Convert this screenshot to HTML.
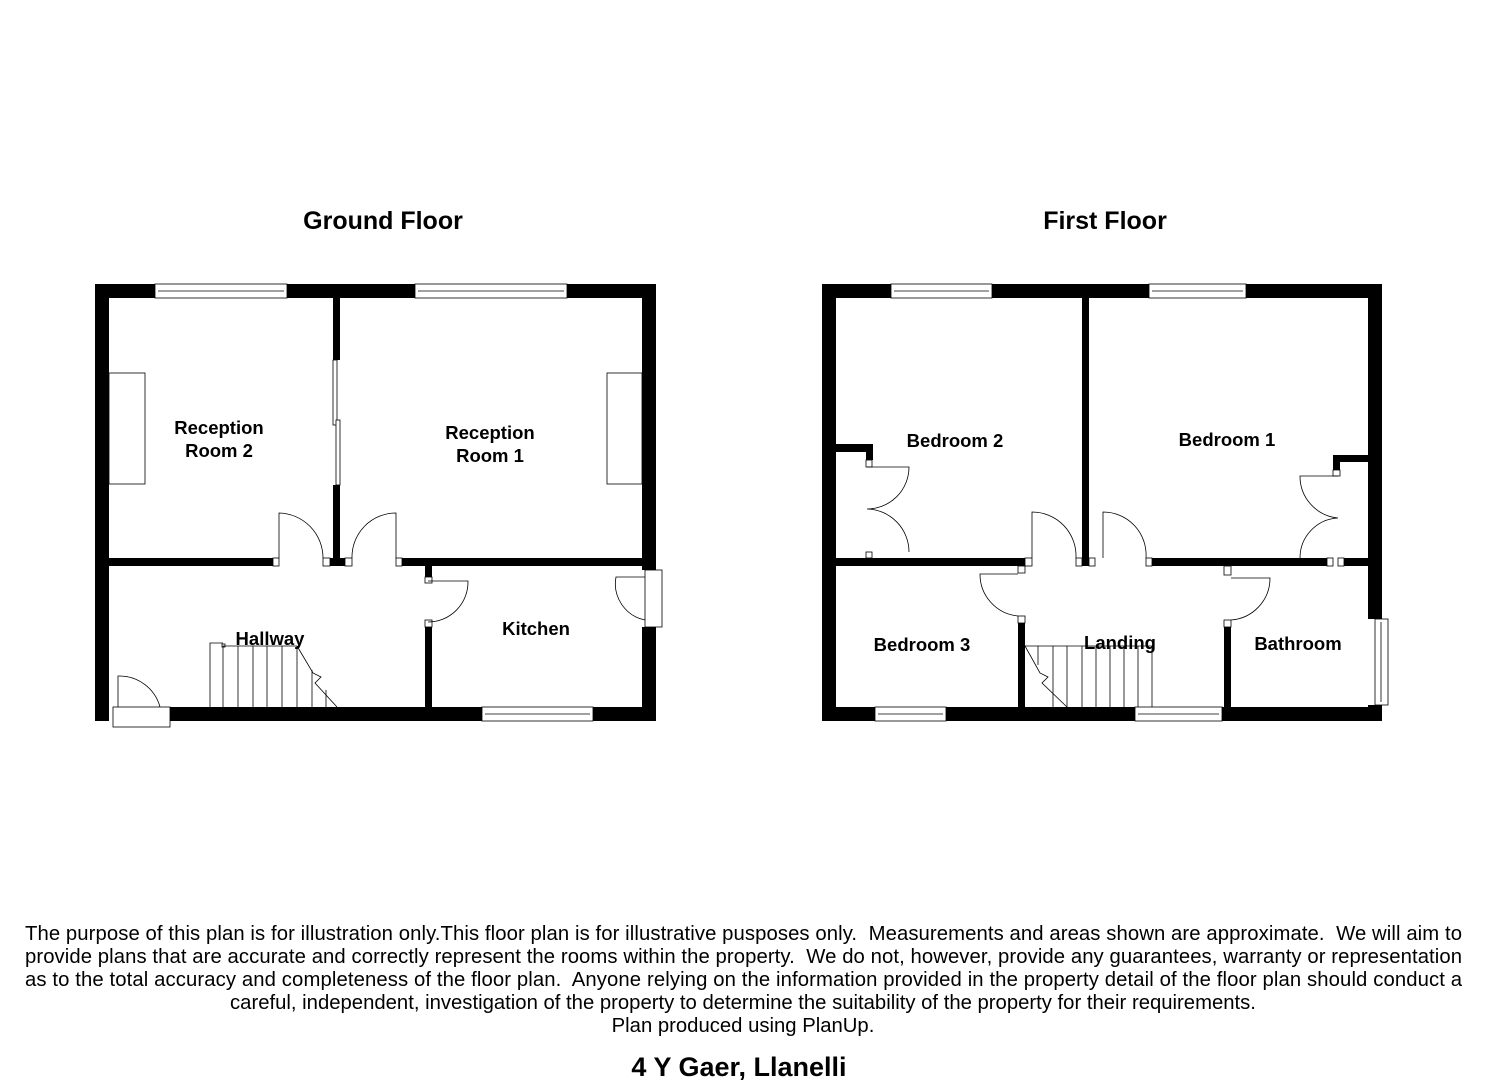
<!DOCTYPE html>
<html><head><meta charset="utf-8"><style>
body{margin:0;background:#fff;}
svg{display:block}
text{font-family:"Liberation Sans",Arial,sans-serif;}
.t{font-weight:bold;font-size:18.5px;text-anchor:middle}
.f{font-size:20.3px;white-space:pre}
</style></head><body>
<svg width="1485" height="1080" viewBox="0 0 1485 1080" xmlns="http://www.w3.org/2000/svg">
<rect width="1485" height="1080" fill="#fff"/>
<text x="383" y="229" class="t" style="font-size:25px">Ground Floor</text>
<text x="1105" y="229" class="t" style="font-size:25px">First Floor</text>

<g fill="#000">
<rect x="95" y="284" width="561" height="14"/>
<rect x="95" y="284" width="14" height="437"/>
<rect x="642" y="284" width="14" height="286"/>
<rect x="642" y="627" width="14" height="94"/>
<rect x="170" y="707" width="486" height="14"/>
<rect x="333" y="298" width="7" height="62"/>
<rect x="333" y="485" width="7" height="81"/>
<rect x="109" y="558" width="164" height="8"/>
<rect x="330" y="558" width="15" height="8"/>
<rect x="402" y="558" width="240" height="8"/>
<rect x="425" y="566" width="7" height="11"/>
<rect x="425" y="627" width="7" height="80"/>
<rect x="822" y="284" width="560" height="14"/>
<rect x="822" y="284" width="14" height="437"/>
<rect x="1368" y="284" width="14" height="335"/>
<rect x="1368" y="705" width="14" height="16"/>
<rect x="822" y="707" width="560" height="14"/>
<rect x="1082" y="298" width="7" height="268"/>
<rect x="836" y="558" width="189" height="8"/>
<rect x="1152" y="558" width="175" height="8"/>
<rect x="1344" y="558" width="24" height="8"/>
<rect x="836" y="444" width="37" height="8"/>
<rect x="866" y="444" width="7" height="16"/>
<rect x="1333" y="455" width="35" height="7"/>
<rect x="1333" y="455" width="7" height="15"/>
<rect x="1018" y="623" width="7" height="84"/>
<rect x="1224" y="627" width="7" height="80"/>
</g>

<g fill="#fff" stroke="#000" stroke-width="0.8">
<rect x="155" y="284" width="132" height="14"/><line x1="158" y1="291" x2="284" y2="291"/>
<rect x="415" y="284" width="152" height="14"/><line x1="418" y1="291" x2="564" y2="291"/>
<rect x="482" y="707" width="111" height="14"/><line x1="485" y1="714" x2="590" y2="714"/>
<rect x="113" y="707" width="57" height="20"/>
<rect x="645" y="570" width="17" height="57"/>
<rect x="333" y="360" width="4" height="65"/><rect x="336" y="420" width="4" height="65"/>
<rect x="109" y="373" width="36" height="111"/>
<rect x="607" y="373" width="35" height="111"/>
<rect x="273" y="558" width="6" height="8"/><rect x="323" y="558" width="7" height="8"/>
<rect x="345" y="558" width="7" height="8"/><rect x="396" y="558" width="6" height="8"/>
<rect x="425" y="577" width="7" height="6"/><rect x="425" y="620" width="7" height="7"/>
<rect x="891" y="284" width="101" height="14"/><line x1="894" y1="291" x2="989" y2="291"/>
<rect x="1149" y="284" width="97" height="14"/><line x1="1152" y1="291" x2="1243" y2="291"/>
<rect x="875" y="707" width="71" height="14"/><line x1="878" y1="714" x2="943" y2="714"/>
<rect x="1135" y="707" width="87" height="14"/><line x1="1138" y1="714" x2="1219" y2="714"/>
<rect x="1375" y="619" width="13" height="86"/><line x1="1381" y1="622" x2="1381" y2="702"/>
<rect x="1025" y="558" width="7" height="8"/><rect x="1076" y="558" width="6" height="8"/>
<rect x="1089" y="558" width="6" height="8"/><rect x="1146" y="558" width="6" height="8"/>
<rect x="1327" y="558" width="6" height="8"/><rect x="1338" y="558" width="6" height="8"/>
<rect x="866" y="460" width="6" height="7"/><rect x="866" y="552" width="6" height="6"/>
<rect x="1333" y="470" width="7" height="6"/>
<rect x="1018" y="566" width="7" height="7"/><rect x="1018" y="616" width="7" height="7"/>
<rect x="1224" y="566" width="7" height="9"/><rect x="1224" y="620" width="7" height="7"/>
</g>

<g fill="none" stroke="#000" stroke-width="0.8">
<path d="M279 558 V513 A45 45 0 0 1 323 558"/>
<path d="M396 558 V513 A44 44 0 0 0 352 558"/>
<path d="M428 581 H468 A40 40 0 0 1 428 622"/>
<path d="M645 577 H616 A37 37 0 0 0 645 620"/>
<path d="M118 707 V676 A42 42 0 0 1 160 707"/>
<path d="M210 707 V643 H223"/>
<line x1="223" y1="646" x2="297" y2="646"/>
<rect x="222" y="644" width="3" height="3"/>
<line x1="223" y1="646" x2="223" y2="707"/><line x1="238" y1="646" x2="238" y2="707"/>
<line x1="253" y1="646" x2="253" y2="707"/><line x1="267" y1="646" x2="267" y2="707"/>
<line x1="282" y1="646" x2="282" y2="707"/><line x1="297" y1="646" x2="297" y2="707"/>
<line x1="312" y1="670" x2="312" y2="707"/><line x1="326" y1="690" x2="326" y2="707"/>
<path d="M297 646 L313 673 L321 677 L315 683 L337 707"/>
<path d="M1032 558 V512 A44 44 0 0 1 1076 558"/>
<path d="M1103 558 V512 A43 43 0 0 1 1146 558"/>
<path d="M867 467 H909 A42 42 0 0 1 867 509 A43 43 0 0 1 909 552"/>
<path d="M1338 476 H1300 A42 42 0 0 0 1338 518 A40 40 0 0 0 1300 558"/>
<path d="M1018 574 H980 A42 42 0 0 0 1018 616"/>
<path d="M1231 578 H1270 A42 42 0 0 1 1231 620"/>
<line x1="1025" y1="646" x2="1152" y2="646"/>
<line x1="1038" y1="646" x2="1038" y2="665"/><line x1="1053" y1="646" x2="1053" y2="707"/>
<line x1="1067" y1="646" x2="1067" y2="707"/><line x1="1082" y1="646" x2="1082" y2="707"/>
<line x1="1096" y1="646" x2="1096" y2="707"/><line x1="1110" y1="646" x2="1110" y2="707"/>
<line x1="1124" y1="646" x2="1124" y2="707"/><line x1="1138" y1="646" x2="1138" y2="707"/>
<line x1="1152" y1="646" x2="1152" y2="707"/>
<path d="M1025 646 L1040 673 L1048 677 L1042 683 L1067 707"/>
</g>

<text x="219" y="434" class="t">Reception</text><text x="219" y="457" class="t">Room 2</text>
<text x="490" y="439" class="t">Reception</text><text x="490" y="462" class="t">Room 1</text>
<text x="270" y="645" class="t">Hallway</text>
<text x="536" y="635" class="t">Kitchen</text>
<text x="955" y="447" class="t">Bedroom 2</text>
<text x="1227" y="446" class="t">Bedroom 1</text>
<text x="922" y="651" class="t">Bedroom 3</text>
<text x="1120" y="649" class="t">Landing</text>
<text x="1298" y="650" class="t">Bathroom</text>

<text x="25" y="940" class="f" textLength="1437" lengthAdjust="spacing">The purpose of this plan is for illustration only.This floor plan is for illustrative pusposes only.  Measurements and areas shown are approximate.  We will aim to</text>
<text x="25" y="963" class="f" textLength="1437" lengthAdjust="spacing">provide plans that are accurate and correctly represent the rooms within the property.  We do not, however, provide any guarantees, warranty or representation</text>
<text x="25" y="986" class="f" textLength="1437" lengthAdjust="spacing">as to the total accuracy and completeness of the floor plan.  Anyone relying on the information provided in the property detail of the floor plan should conduct a</text>
<text x="743" y="1009" class="f" text-anchor="middle">careful, independent, investigation of the property to determine the suitability of the property for their requirements.</text>
<text x="743" y="1032" class="f" text-anchor="middle">Plan produced using PlanUp.</text>
<text x="739" y="1076" class="t" style="font-size:27px">4 Y Gaer, Llanelli</text>
</svg>
</body></html>
